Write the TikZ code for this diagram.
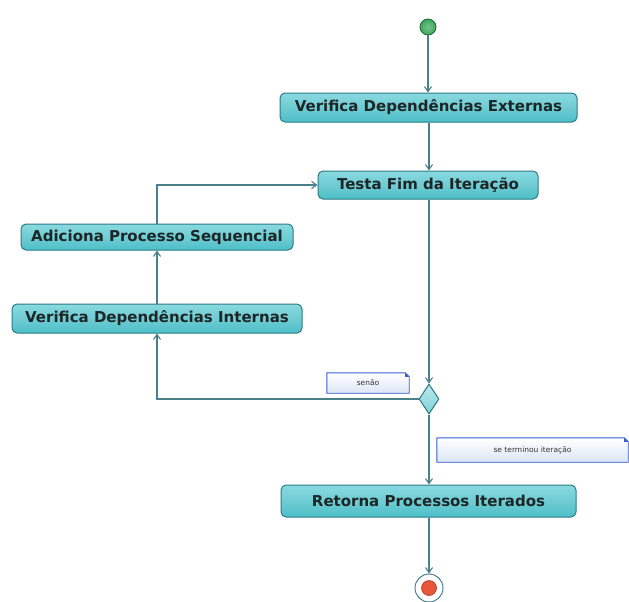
\documentclass[tikz,border=0pt]{standalone}
\usepackage{fontspec}
\setmainfont{DejaVu Sans}
\usetikzlibrary{arrows.meta,shapes.geometric,calc}
\definecolor{boxfill}{HTML}{4CBFC8}
\definecolor{boxtop}{HTML}{88DAE0}
\definecolor{boxline}{HTML}{2C7A86}
\definecolor{edgec}{HTML}{4A7F8C}
\definecolor{notebd}{HTML}{3A5FD0}
\definecolor{notefill}{HTML}{DCE6F6}
\definecolor{startc}{HTML}{3AA85A}
\definecolor{endc}{HTML}{E8563A}
\definecolor{txt}{HTML}{1C2626}
\tikzset{
  actbox/.style={rectangle, rounded corners=5pt, draw=boxline, line width=1pt,
    top color=boxtop, bottom color=boxfill, middle color=boxfill!80!white,
    text=txt, font=\bfseries\fontsize{15}{17}\selectfont, inner sep=0pt},
  conn/.style={draw=edgec, line width=1.1pt, -{Straight Barb[length=5pt,width=7pt]}},
  notebox/.style={rectangle, inner sep=0pt, top color=white, bottom color=notefill,
    font=\fontsize{7.5}{9}\selectfont, text=black!80},
  decis/.style={diamond, draw=boxline, line width=1pt, top color=boxtop!60!white, bottom color=boxfill!70!white,
    minimum width=20pt, minimum height=30pt, inner sep=0pt, aspect=0.66}
}
\newcommand{\foldnote}[1]{%
  \draw[notebd, line width=0.9pt] (#1.north west) -- ([xshift=-4pt]#1.north east) -- ([yshift=-4pt]#1.north east) -- (#1.south east) -- (#1.south west) -- cycle;
  \fill[notebd] ([xshift=-4pt]#1.north east) -- ([yshift=-4pt]#1.north east) -- ([xshift=-4pt,yshift=-4pt]#1.north east) -- cycle;
}
\begin{document}
\begin{tikzpicture}[x=1pt,y=-1pt]
\useasboundingbox (0,0) rectangle (629,602);
\fill[white] (0,0) rectangle (629,602);

\node[circle, draw=startc!60!black, line width=0.8pt, inner color=startc!70!white, outer color=startc, minimum size=16pt, inner sep=0pt] (st) at (428,27) {};

\node[actbox, minimum width=297pt, minimum height=29pt] (b1) at (428.5,107.5) {Verifica Dependências Externas};
\node[actbox, minimum width=220pt, minimum height=28pt] (b2) at (428,185) {Testa Fim da Iteração};
\node[actbox, minimum width=272pt, minimum height=26pt] (b3) at (157,237) {Adiciona Processo Sequencial};
\node[actbox, minimum width=290pt, minimum height=29pt] (b4) at (157,318.5) {Verifica Dependências Internas};
\node[decis] (d) at (429,399) {};
\node[actbox, minimum width=295pt, minimum height=32pt] (b5) at (428.5,501) {Retorna Processos Iterados};

\node[circle, draw=edgec, line width=1pt, fill=white, minimum size=28pt, inner sep=0pt] (en) at (429,588) {};
\node[circle, draw=endc!70!black, line width=0.6pt, fill=endc, minimum size=15pt, inner sep=0pt] (enin) at (en.center) {};

\node[notebox, minimum width=82pt, minimum height=20pt] (n1) at (368,383) {senão};
\foldnote{n1}
\node[notebox, minimum width=191pt, minimum height=24pt] (n2) at (532.5,450) {se terminou iteração};
\foldnote{n2}

\draw[conn] (st.south) -- (st.south |- b1.north);
\draw[conn] (b1.south -| d.north) -- (d.north |- b2.north);
\draw[conn] (d.north |- b2.south) -- (d.north);
\draw[conn] (d.west) -| (b4.south);
\draw[conn] (b4.north) -- (b4.north |- b3.south);
\draw[conn] (b3.north -| b4.north) |- (b2.west);
\draw[conn] (d.south) -- (d.south |- b5.north);
\draw[conn] (b5.south -| en.north) -- (en.north);
\end{tikzpicture}
\end{document}
